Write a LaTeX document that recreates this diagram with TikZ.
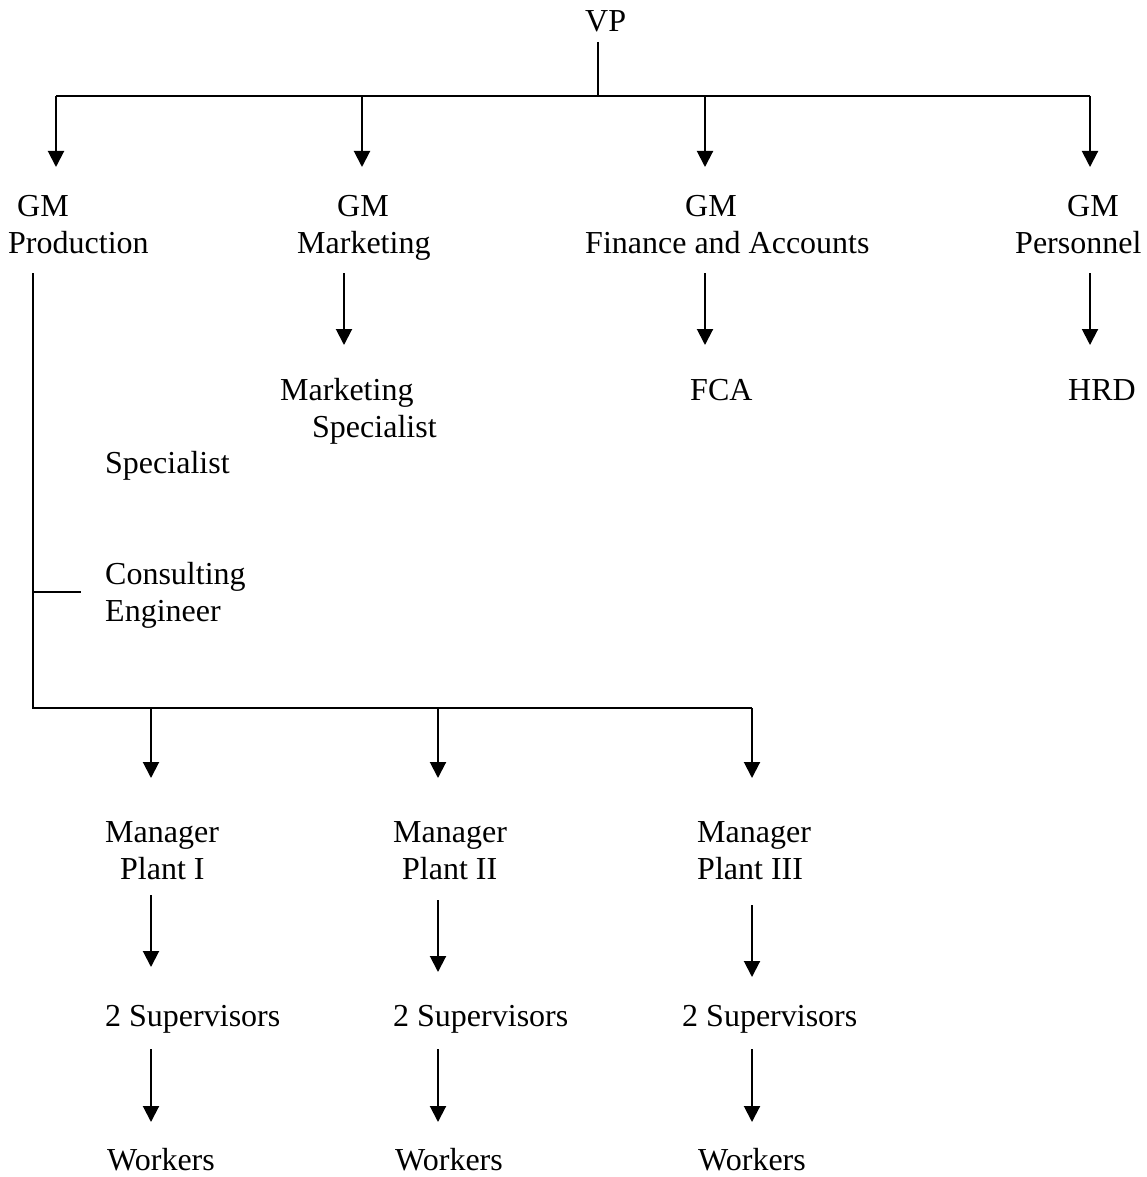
\documentclass[tikz,border=0pt]{standalone}
\usepackage{fontspec}
\setmainfont{Liberation Serif}
\usetikzlibrary{arrows.meta, calc}

\begin{document}
\begin{tikzpicture}[x=1pt, y=-1pt, >={Triangle[width=16pt,length=16pt]},
	every node/.style={font=\fontsize{32}{37}\selectfont, inner sep=0pt, anchor=base west, align=left},
	link/.style={line width=2pt},
	down/.style={line width=2pt, ->}]
	\useasboundingbox (0,0) rectangle (1147,1177);
	% VP and the top bus
	\node (vp) at (585,32) {VP};
	\coordinate (vpb) at (598,42);
	\coordinate (busL) at (56,96);
	\coordinate (busR) at (1090,96);
	\draw[link] (vpb) -- (vpb |- busL);
	\draw[link] (busL) -- (busR);
	\foreach \n/\x in {Prod/56, Mkt/362, Fin/705, Pers/1090}{
		\coordinate (a\n) at (\x,96);
		\coordinate (b\n) at (\x,167);
		\draw[down] (a\n) -- (b\n);
	}
	% general managers (placed at the baseline of the last line)
	\node (gmProd) at (8,253) {\hspace*{9pt}GM\\Production};
	\node (gmMkt) at (297,253) {\hspace*{40pt}GM\\Marketing};
	\node (gmFin) at (585,253) {\hspace*{100pt}GM\\Finance and Accounts};
	\node (gmPers) at (1015,253) {\hspace*{52pt}GM\\Personnel};
	\foreach \n/\x in {Mkt/344, Fin/705, Pers/1090}{
		\coordinate (c\n) at (\x,273);
		\coordinate (d\n) at (\x,345);
		\draw[down] (c\n) -- (d\n);
	}
	\node (mktSp) at (280,437) {Marketing\\\hspace*{32pt}Specialist};
	\node (fca) at (690,400) {FCA};
	\node (hrd) at (1068,400) {HRD};
	% production side
	\node (spec) at (105,473) {Specialist};
	\node (cons) at (105,621) {Consulting\\Engineer};
	\coordinate (pTop) at (33,273);
	\coordinate (pBot) at (33,708);
	\coordinate (pEnd) at (752,708);
	\coordinate (stub) at (33,592);
	\draw[link] (pTop) -- (pBot) -- (pEnd);
	\draw[link] (stub) -- ++(48,0);
	% plants
	\node (mgr1) at (105,879) {Manager\\\hspace*{15pt}Plant I};
	\node (mgr2) at (393,879) {Manager\\\hspace*{9pt}Plant II};
	\node (mgr3) at (697,879) {Manager\\Plant III};
	\node (sup1) at (105,1026) {2 Supervisors};
	\node (sup2) at (393,1026) {2 Supervisors};
	\node (sup3) at (682,1026) {2 Supervisors};
	\node (wrk1) at (107,1170) {Workers};
	\node (wrk2) at (395,1170) {Workers};
	\node (wrk3) at (698,1170) {Workers};
	\foreach \i/\x/\t/\s in {1/151/895/967, 2/438/900/972, 3/752/905/977}{
		\coordinate (e\i) at (\x,708);
		\coordinate (f\i) at (\x,778);
		\coordinate (g\i) at (\x,\t);
		\coordinate (h\i) at (\x,\s);
		\coordinate (k\i) at (\x,1049);
		\coordinate (m\i) at (\x,1122);
		\draw[down] (e\i) -- (f\i);
		\draw[down] (g\i) -- (h\i);
		\draw[down] (k\i) -- (m\i);
	}
\end{tikzpicture}
\end{document}
